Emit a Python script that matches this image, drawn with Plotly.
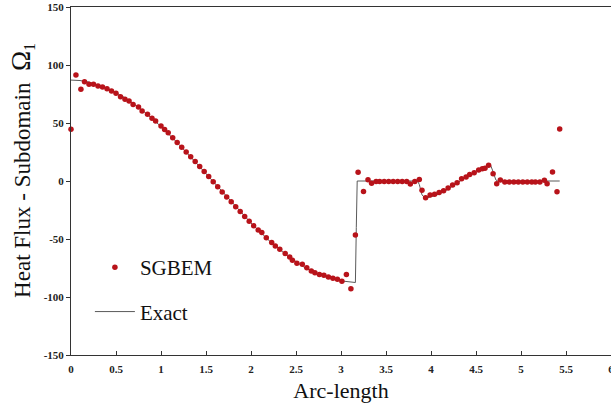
import plotly.graph_objects as go

# SGBEM solution: heat flux along the boundary of subdomain Omega_1
sgbem_x = [0.00, 0.055, 0.11, 0.15, 0.20, 0.25, 0.30, 0.35, 0.40, 0.45, 0.50, 0.55,
           0.60, 0.645, 0.69, 0.75, 0.79, 0.85, 0.90, 0.94, 1.00, 1.04, 1.08, 1.13,
           1.18, 1.23, 1.28, 1.33, 1.38, 1.43, 1.48, 1.53, 1.58, 1.63, 1.68, 1.73,
           1.78, 1.83, 1.88, 1.93, 1.98, 2.03, 2.08, 2.12, 2.17, 2.23, 2.27, 2.32,
           2.38, 2.43, 2.46, 2.51, 2.57, 2.62, 2.67, 2.71, 2.76, 2.81, 2.86, 2.91,
           2.96, 3.01, 3.06, 3.11, 3.16, 3.19, 3.25, 3.30, 3.34, 3.39, 3.43, 3.48,
           3.53, 3.58, 3.63, 3.68, 3.73, 3.77, 3.82, 3.87, 3.90, 3.94, 3.99, 4.04,
           4.09, 4.14, 4.19, 4.24, 4.29, 4.34, 4.39, 4.43, 4.48, 4.53, 4.57, 4.60,
           4.64, 4.69, 4.73, 4.77, 4.82, 4.87, 4.92, 4.97, 5.02, 5.07, 5.12, 5.16,
           5.21, 5.26, 5.29, 5.35, 5.40, 5.43]
sgbem_y = [44.6, 91.4, 79.0, 85.6, 83.3, 83.3, 81.9, 81.0, 79.6, 77.6, 75.6, 72.7,
           70.4, 69.0, 66.0, 63.8, 60.3, 57.5, 54.0, 51.7, 47.4, 44.5, 41.6, 37.3,
           33.2, 29.2, 25.1, 21.0, 16.8, 12.5, 8.2, 3.8, -0.6, -4.9, -9.4, -13.7,
           -17.9, -22.2, -26.3, -30.5, -34.6, -38.5, -42.3, -44.5, -48.9, -53.0, -56.0, -58.9,
           -62.6, -65.5, -68.4, -71.0, -71.8, -74.7, -77.6, -79.0, -80.5, -81.3, -82.8, -83.9,
           -84.8, -86.5, -80.5, -92.8, -46.6, 7.5, -9.0, 1.0, -2.0, -0.5, -0.5, -0.5,
           -0.5, -0.5, -0.5, -0.5, -0.5, -2.5, -0.5, 1.2, -8.0, -14.4, -12.0, -11.5,
           -10.0, -8.5, -6.0, -3.5, -1.5, 2.0, 3.5, 5.7, 7.2, 9.5, 10.6, 11.0,
           13.5, 6.3, -2.3, 0.9, -0.8, -0.8, -0.8, -0.8, -0.8, -0.8, -0.8, -0.8,
           -0.8, 0.6, -2.3, 7.8, -9.2, 44.8]

# Exact solution
exact_x = [0.00, 0.10, 0.20, 0.40, 0.60, 0.80, 1.00, 1.20, 1.40, 1.60, 1.80, 2.00,
           2.20, 2.40, 2.60, 2.80, 3.00, 3.10, 3.16, 3.17, 3.18, 3.85, 3.87, 3.90,
           3.94, 4.00, 4.05, 4.15, 4.25, 4.35, 4.45, 4.55, 4.62, 4.66, 4.69, 4.72,
           4.74, 5.43]
exact_y = [87.0, 86.6, 85.3, 80.1, 71.8, 60.6, 47.0, 31.5, 14.8, -2.5, -19.8, -36.2,
           -51.3, -64.2, -74.8, -82.0, -86.1, -87.0, -87.5, -40.0, 0.0, 0.0, -3.0, -12.0,
           -15.0, -13.5, -12.5, -9.0, -4.0, 1.5, 6.5, 10.5, 13.0, 14.0, 8.0, 1.0,
           0.0, 0.0]

x_ticks = [0, 0.5, 1, 1.5, 2, 2.5, 3, 3.5, 4, 4.5, 5, 5.5, 6]
x_labels = ["0", "0.5", "1", "1.5", "2", "2.5", "3", "3.5", "4", "4.5", "5", "5.5", "6"]
y_ticks = [-150, -100, -50, 0, 50, 100, 150]
y_labels = ["-150", "-100", "-50", "0", "50", "100", "150"]

SERIF = "Liberation Serif, Times New Roman, serif"
AXIS_COLOR = "#333333"
tick_font = dict(family=SERIF, size=11, color="#222222", weight="bold")

fig = go.Figure()

fig.add_trace(go.Scatter(
    x=exact_x, y=exact_y, mode="lines", name="Exact",
    line=dict(color="#5a5a5a", width=1),
    legendgroup="exact", legendrank=2, cliponaxis=False,
))
fig.add_trace(go.Scatter(
    x=sgbem_x, y=sgbem_y, mode="markers", name="SGBEM",
    marker=dict(color="#b8131a", size=5.5, line=dict(width=0)),
    legendgroup="sgbem", legendrank=1, cliponaxis=False,
))

fig.update_layout(
    width=611, height=412,
    margin=dict(l=71, r=0, t=7, b=57),
    paper_bgcolor="white", plot_bgcolor="white",
    template="none",
    font=dict(family=SERIF, color="#111111"),
    showlegend=True,
    legend=dict(
        x=0.035, y=0.31, xanchor="left", yanchor="top",
        bgcolor="rgba(0,0,0,0)", borderwidth=0,
        font=dict(family=SERIF, size=21, color="#111111"),
        tracegroupgap=14, itemwidth=40,
    ),
    xaxis=dict(
        range=[0, 6], tickmode="array", tickvals=x_ticks, ticktext=x_labels,
        ticks="inside", ticklen=4, tickwidth=1, tickcolor=AXIS_COLOR,
        showline=True, linecolor=AXIS_COLOR, linewidth=1, mirror=True,
        showgrid=False, zeroline=False, automargin=False,
        tickfont=tick_font, ticklabelstandoff=4, ticklabeloverflow="allow",
        title=dict(text="Arc-length", font=dict(family=SERIF, size=22, color="#111111"), standoff=8),
    ),
    yaxis=dict(
        range=[-150, 150], tickmode="array", tickvals=y_ticks, ticktext=y_labels,
        ticks="outside", ticklen=4, tickwidth=1, tickcolor=AXIS_COLOR,
        showline=True, linecolor=AXIS_COLOR, linewidth=1,
        showgrid=False, zeroline=False, automargin=False,
        tickfont=tick_font, ticklabeloverflow="allow",
    ),
    annotations=[dict(
        text="Heat Flux - Subdomain  <span style='font-size:27px'>Ω</span><sub>1</sub>",
        textangle=-90, xref="paper", yref="paper", x=-0.092, y=0.53,
        xanchor="center", yanchor="middle", showarrow=False,
        font=dict(family=SERIF, size=23, color="#111111"),
    )],
)

fig.write_html("out.html")
